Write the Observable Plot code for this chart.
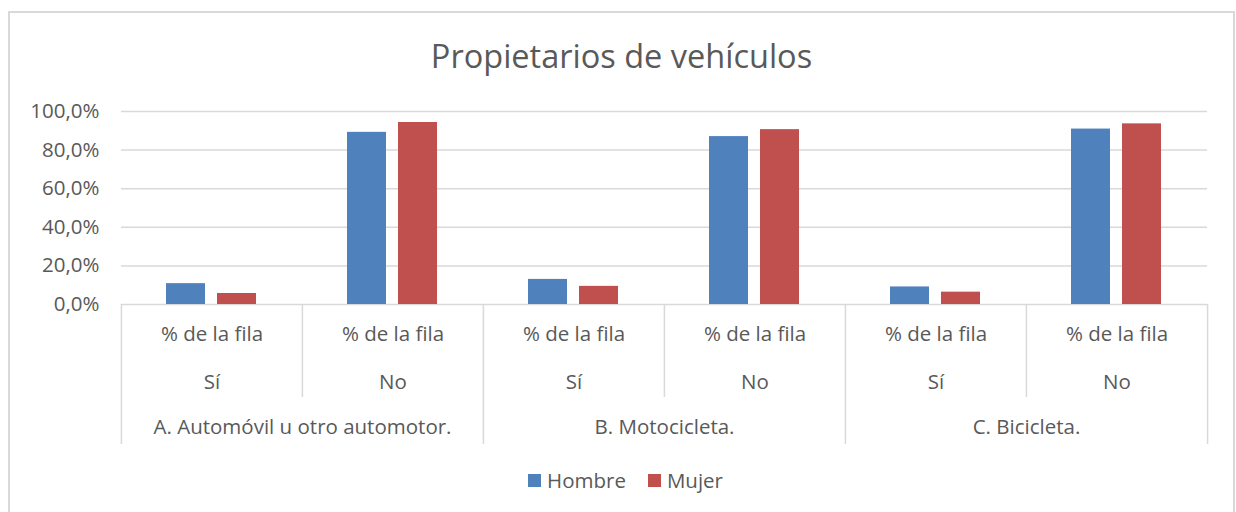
<!DOCTYPE html>
<html><head><meta charset="utf-8">
<script src="https://cdn.jsdelivr.net/npm/d3@7"></script>
<script src="https://cdn.jsdelivr.net/npm/@observablehq/plot@0.6"></script>
<style>
body{margin:0;background:#fff;overflow:hidden;font-family:"Open Sans",sans-serif;}
#chart{position:relative;width:1236px;height:512px;overflow:hidden;background:#fff;}
#border{position:absolute;left:8px;top:11px;width:1227px;height:530px;border:2px solid #d9d9d9;box-sizing:border-box;}
#title{position:absolute;top:34px;left:8px;width:1227px;text-align:center;font-size:32.5px;color:#595959;line-height:44px;}
#plot{position:absolute;left:0;top:90px;}
#legend{position:absolute;top:466px;left:12px;width:1227px;display:flex;justify-content:center;align-items:center;font-size:20.5px;color:#595959;}
#legend .item{display:flex;align-items:center;margin:0 11px;}
#legend .sw{width:13px;height:13px;margin-right:6px;}
</style></head>
<body>
<div id="chart">
  <div id="border"></div>
  <div id="title"></div>
  <div id="plot"></div>
  <div id="legend"></div>
</div>
<script>
// ---- data ----
const title = "Propietarios de vehículos";
const groups = ["A. Automóvil u otro automotor.", "B. Motocicleta.", "C. Bicicleta."];
const answers = ["Sí", "No"];
const rowLabel = "% de la fila";
const series = ["Hombre", "Mujer"];
const colors = ["#4F81BD", "#C0504D"];
// values in % (order: A-Sí, A-No, B-Sí, B-No, C-Sí, C-No)
const hombre = [10.8, 89.2, 13.0, 87.0, 9.1, 90.9];
const mujer  = [5.7, 94.3, 9.4, 90.6, 6.4, 93.6];
const yTicks = [0, 20, 40, 60, 80, 100];

// ---- build tables ----
const cells = [];
groups.forEach((g, gi) => answers.forEach((a, ai) => cells.push({key: gi + "-" + ai, group: g, answer: a, idx: gi * answers.length + ai})));
const bars = [];
cells.forEach(c => {
  bars.push({key: c.key, sex: series[0], value: hombre[c.idx]});
  bars.push({key: c.key, sex: series[1], value: mujer[c.idx]});
});
const groupLabels = groups.map((g, gi) => ({key: gi + "-0", group: g}));
const shortDiv = cells.filter(c => c.answer === answers[1]);
const longDiv = cells.filter(c => c.answer === answers[0]);
const lastCell = [cells[cells.length - 1]];

// ---- layout ----
const W = 1236, H = 370, mL = 120, mR = 29, mT = 21, mB = 156;
const facetW = (W - mL - mR) / cells.length;
const frameH = H - mT - mB;
const grey = "#d9d9d9", txt = "#595959";
const divStyle = {x: null, stroke: grey, strokeWidth: 1.5, insetTop: frameH};

const plot = Plot.plot({
  width: W, height: H,
  marginLeft: mL, marginRight: mR, marginTop: mT, marginBottom: mB,
  style: {fontFamily: "'Open Sans', sans-serif", fontSize: "20.5px", color: txt, background: "transparent", overflow: "visible"},
  fx: {domain: cells.map(c => c.key), padding: 0, axis: null},
  x: {domain: series, paddingInner: 0.226, paddingOuter: 0.865, axis: null},
  y: {domain: [0, 100], axis: null},
  color: {domain: series, range: colors},
  marks: [
    Plot.gridY(yTicks, {stroke: grey, strokeOpacity: 1, strokeWidth: 1.5}),
    Plot.axisY(yTicks, {anchor: "left", tickSize: 0, tickPadding: 22, fill: txt,
      tickFormat: d => d.toFixed(1).replace(".", ",") + "%", label: null}),
    Plot.barY(bars, {fx: "key", x: "sex", y: "value", fill: "sex"}),
    Plot.ruleX(shortDiv, {fx: "key", dx: -facetW / 2, ...divStyle, insetBottom: -93}),
    Plot.ruleX(longDiv, {fx: "key", dx: -facetW / 2, ...divStyle, insetBottom: -140}),
    Plot.ruleX(lastCell, {fx: "key", dx: facetW / 2, ...divStyle, insetBottom: -140}),
    Plot.text(cells, {fx: "key", text: () => rowLabel, frameAnchor: "bottom", dy: 36, fill: txt}),
    Plot.text(cells, {fx: "key", text: "answer", frameAnchor: "bottom", dy: 84, fill: txt}),
    Plot.text(groupLabels, {fx: "key", text: "group", frameAnchor: "bottom-right", textAnchor: "middle", dy: 129, fill: txt})
  ]
});
document.getElementById("plot").appendChild(plot);
document.getElementById("title").textContent = title;
const leg = document.getElementById("legend");
series.forEach((s, i) => {
  const it = document.createElement("div"); it.className = "item";
  const sw = document.createElement("div"); sw.className = "sw"; sw.style.background = colors[i];
  const t = document.createElement("span"); t.textContent = s;
  it.appendChild(sw); it.appendChild(t); leg.appendChild(it);
});
</script>
</body></html>
